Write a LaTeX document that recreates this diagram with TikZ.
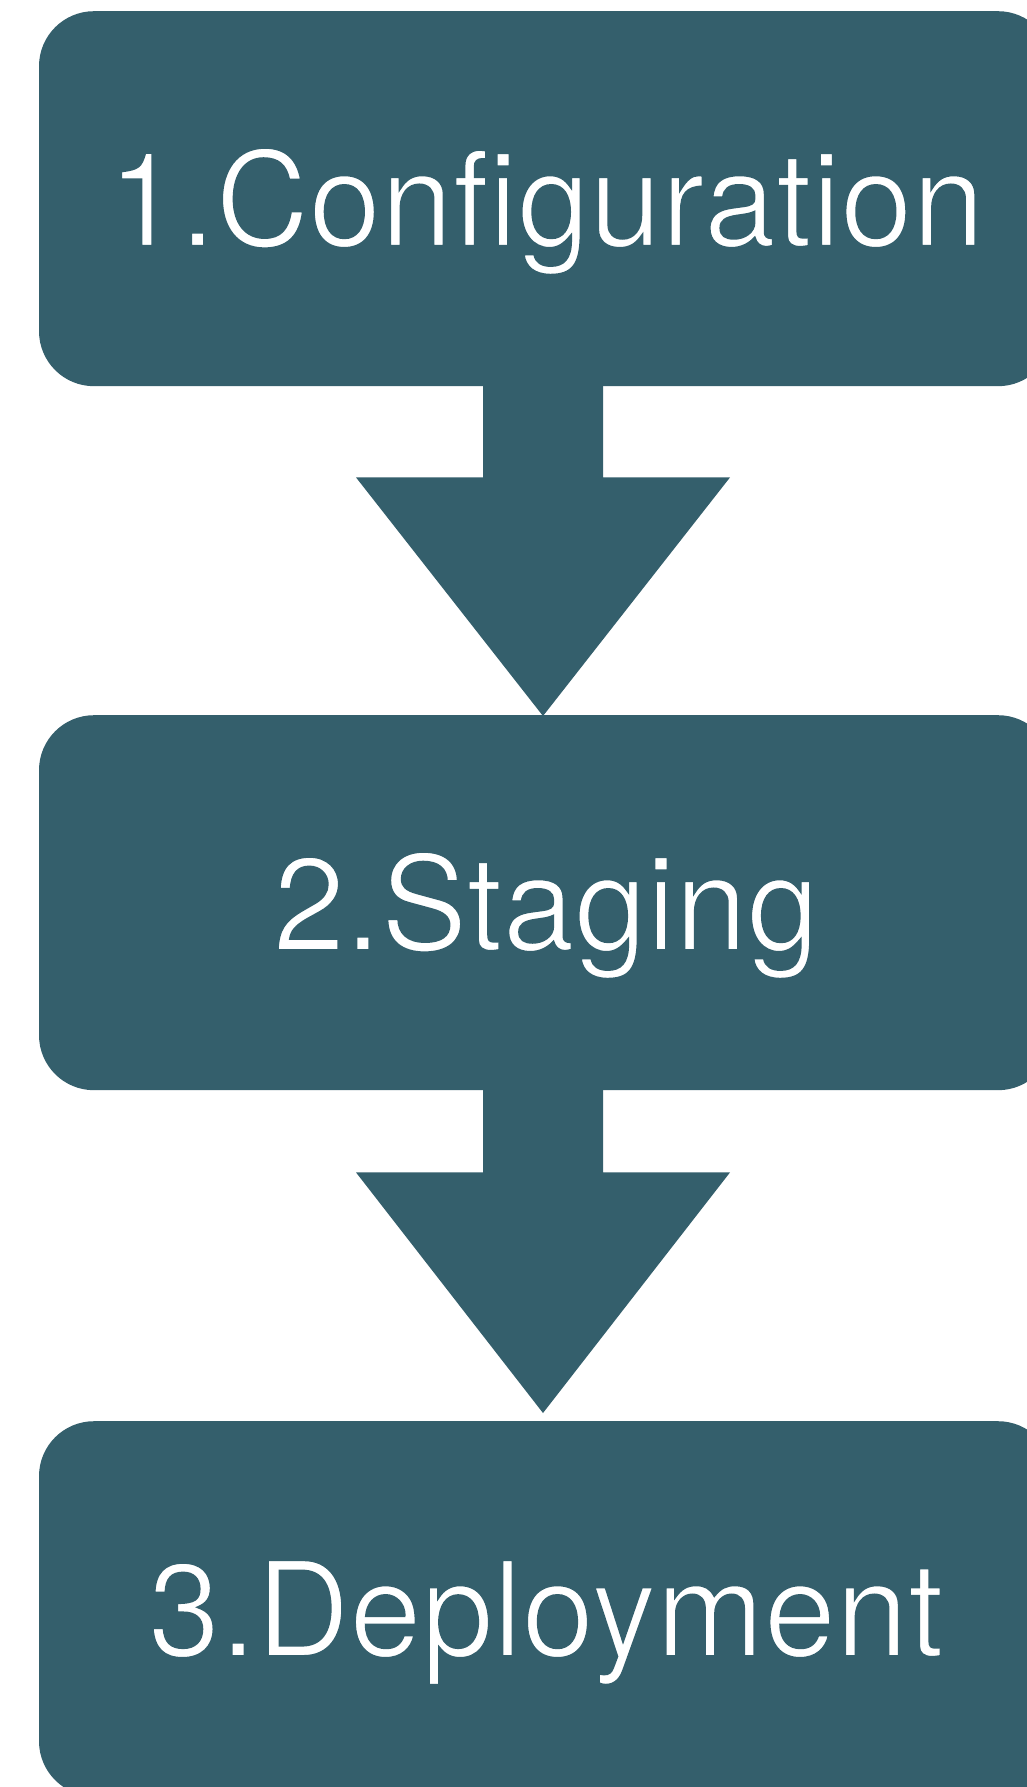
\documentclass[tikz,border=0pt]{standalone}
\usepackage{fontspec}
\setmainfont{TeX Gyre Heros}[FakeStretch=0.98]
\usetikzlibrary{calc}
\definecolor{teal}{HTML}{345F6C}
\newcommand{\thinlabel}[1]{\special{pdf:literal direct q 2 Tr 2.4 w 0.204 0.373 0.424 RG}#1\special{pdf:literal direct Q}}
\tikzset{
  stage/.style={fill=teal, draw=none, rounded corners=55pt, minimum width=1014pt, minimum height=375pt, inner sep=0pt, text=white, font=\fontsize{132}{132}\selectfont, text height=95pt, text depth=0pt, anchor=north},
  flow/.style={fill=teal, draw=none}
}
\begin{document}
\begin{tikzpicture}[x=1pt,y=-1pt]
\useasboundingbox (0,0) rectangle (1026,1787);
\fill[white] (0,0) rectangle (1026,1787);
\node[stage] (b1) at (546,11) {\thinlabel{1.Configuration}};
\node[stage] (b2) at (546,715) {\thinlabel{2.Staging}};
\node[stage] (b3) at (546,1421) {\thinlabel{3.Deployment}};
\fill[flow] ($(b1.south)+(-63,-1)$) -- ($(b1.south)+(-63,91)$) -- ($(b1.south)+(-190,91)$) -- ($(b2.north)+(-3,1)$) -- ($(b1.south)+(184,91)$) -- ($(b1.south)+(57,91)$) -- ($(b1.south)+(57,-1)$) -- cycle;
\fill[flow] ($(b2.south)+(-63,-1)$) -- ($(b2.south)+(-63,82)$) -- ($(b2.south)+(-190,82)$) -- ($(b3.north)+(-3,-8)$) -- ($(b2.south)+(184,82)$) -- ($(b2.south)+(57,82)$) -- ($(b2.south)+(57,-1)$) -- cycle;
\end{tikzpicture}
\end{document}
